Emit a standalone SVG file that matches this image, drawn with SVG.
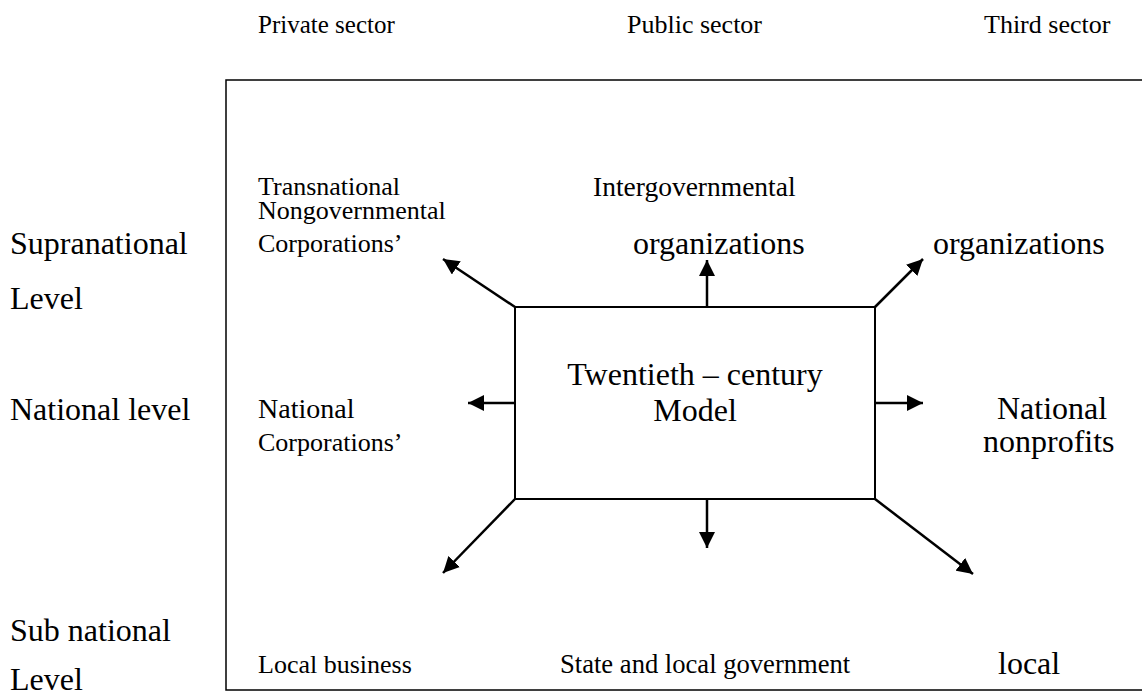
<svg xmlns="http://www.w3.org/2000/svg" width="1142" height="694" viewBox="0 0 1142 694">
<style>
text{font-family:"Liberation Serif","Times New Roman",serif;font-size:26px;fill:#000}
.big{font-size:32px}
.conn{stroke:#000;stroke-width:2.5;fill:none;marker-end:url(#ah)}
.frame{fill:none;stroke:#000;stroke-width:1.5}
</style>
<defs>
<marker id="ah" markerUnits="userSpaceOnUse" markerWidth="18" markerHeight="16" refX="16" refY="8" orient="auto">
<path d="M0,0 L16,8 L0,16 Z" fill="#000"/>
</marker>
</defs>
<rect width="1142" height="694" fill="#fff"/>
<g id="headers">
<text x="258" y="33" style="font-size:25px">Private sector</text>
<text x="627" y="33">Public sector</text>
<text x="984" y="33">Third sector</text>
</g>
<g id="levels">
<text class="big" x="10" y="254">Supranational</text>
<text class="big" x="10" y="309">Level</text>
<text class="big" x="10" y="420">National level</text>
<text class="big" x="10" y="641">Sub national</text>
<text class="big" x="10" y="690">Level</text>
</g>
<g id="frame"><path class="frame" d="M1145,80 L226,80 L226,690 L1145,690"/></g>
<g id="center">
<rect x="515" y="307" width="360" height="192" fill="none" stroke="#000" stroke-width="2"/>
<text class="big" x="695" y="385" text-anchor="middle">Twentieth – century</text>
<text class="big" x="695" y="421" text-anchor="middle">Model</text>
</g>
<g id="transnational"><text x="258" y="195">Transnational</text><text x="258" y="219">Nongovernmental</text><text x="258" y="252">Corporations’</text></g>
<g id="intergov"><text x="593" y="196" style="font-size:27.5px">Intergovernmental</text><text class="big" x="633" y="254">organizations</text></g>
<g id="ngo"><text class="big" x="933" y="254">organizations</text></g>
<g id="natcorp"><text x="258" y="418" style="font-size:28px">National</text><text x="258" y="451">Corporations’</text></g>
<g id="natnp"><text class="big" x="997" y="419">National</text><text class="big" x="983" y="452">nonprofits</text></g>
<g id="localbiz"><text x="258" y="673">Local business</text></g>
<g id="stategov"><text x="560" y="673" style="font-size:26.6px">State and local government</text></g>
<g id="local"><text class="big" x="998" y="674">local</text></g>
<g id="connectors">
<line class="conn" x1="515" y1="307" x2="443" y2="259"/>
<line class="conn" x1="707" y1="307" x2="707" y2="260"/>
<line class="conn" x1="875" y1="307" x2="923" y2="259"/>
<line class="conn" x1="515" y1="403" x2="468" y2="403"/>
<line class="conn" x1="875" y1="403" x2="923" y2="403"/>
<line class="conn" x1="515" y1="499" x2="443" y2="573"/>
<line class="conn" x1="707" y1="499" x2="707" y2="548"/>
<line class="conn" x1="875" y1="499" x2="973" y2="574"/>
</g>
</svg>
